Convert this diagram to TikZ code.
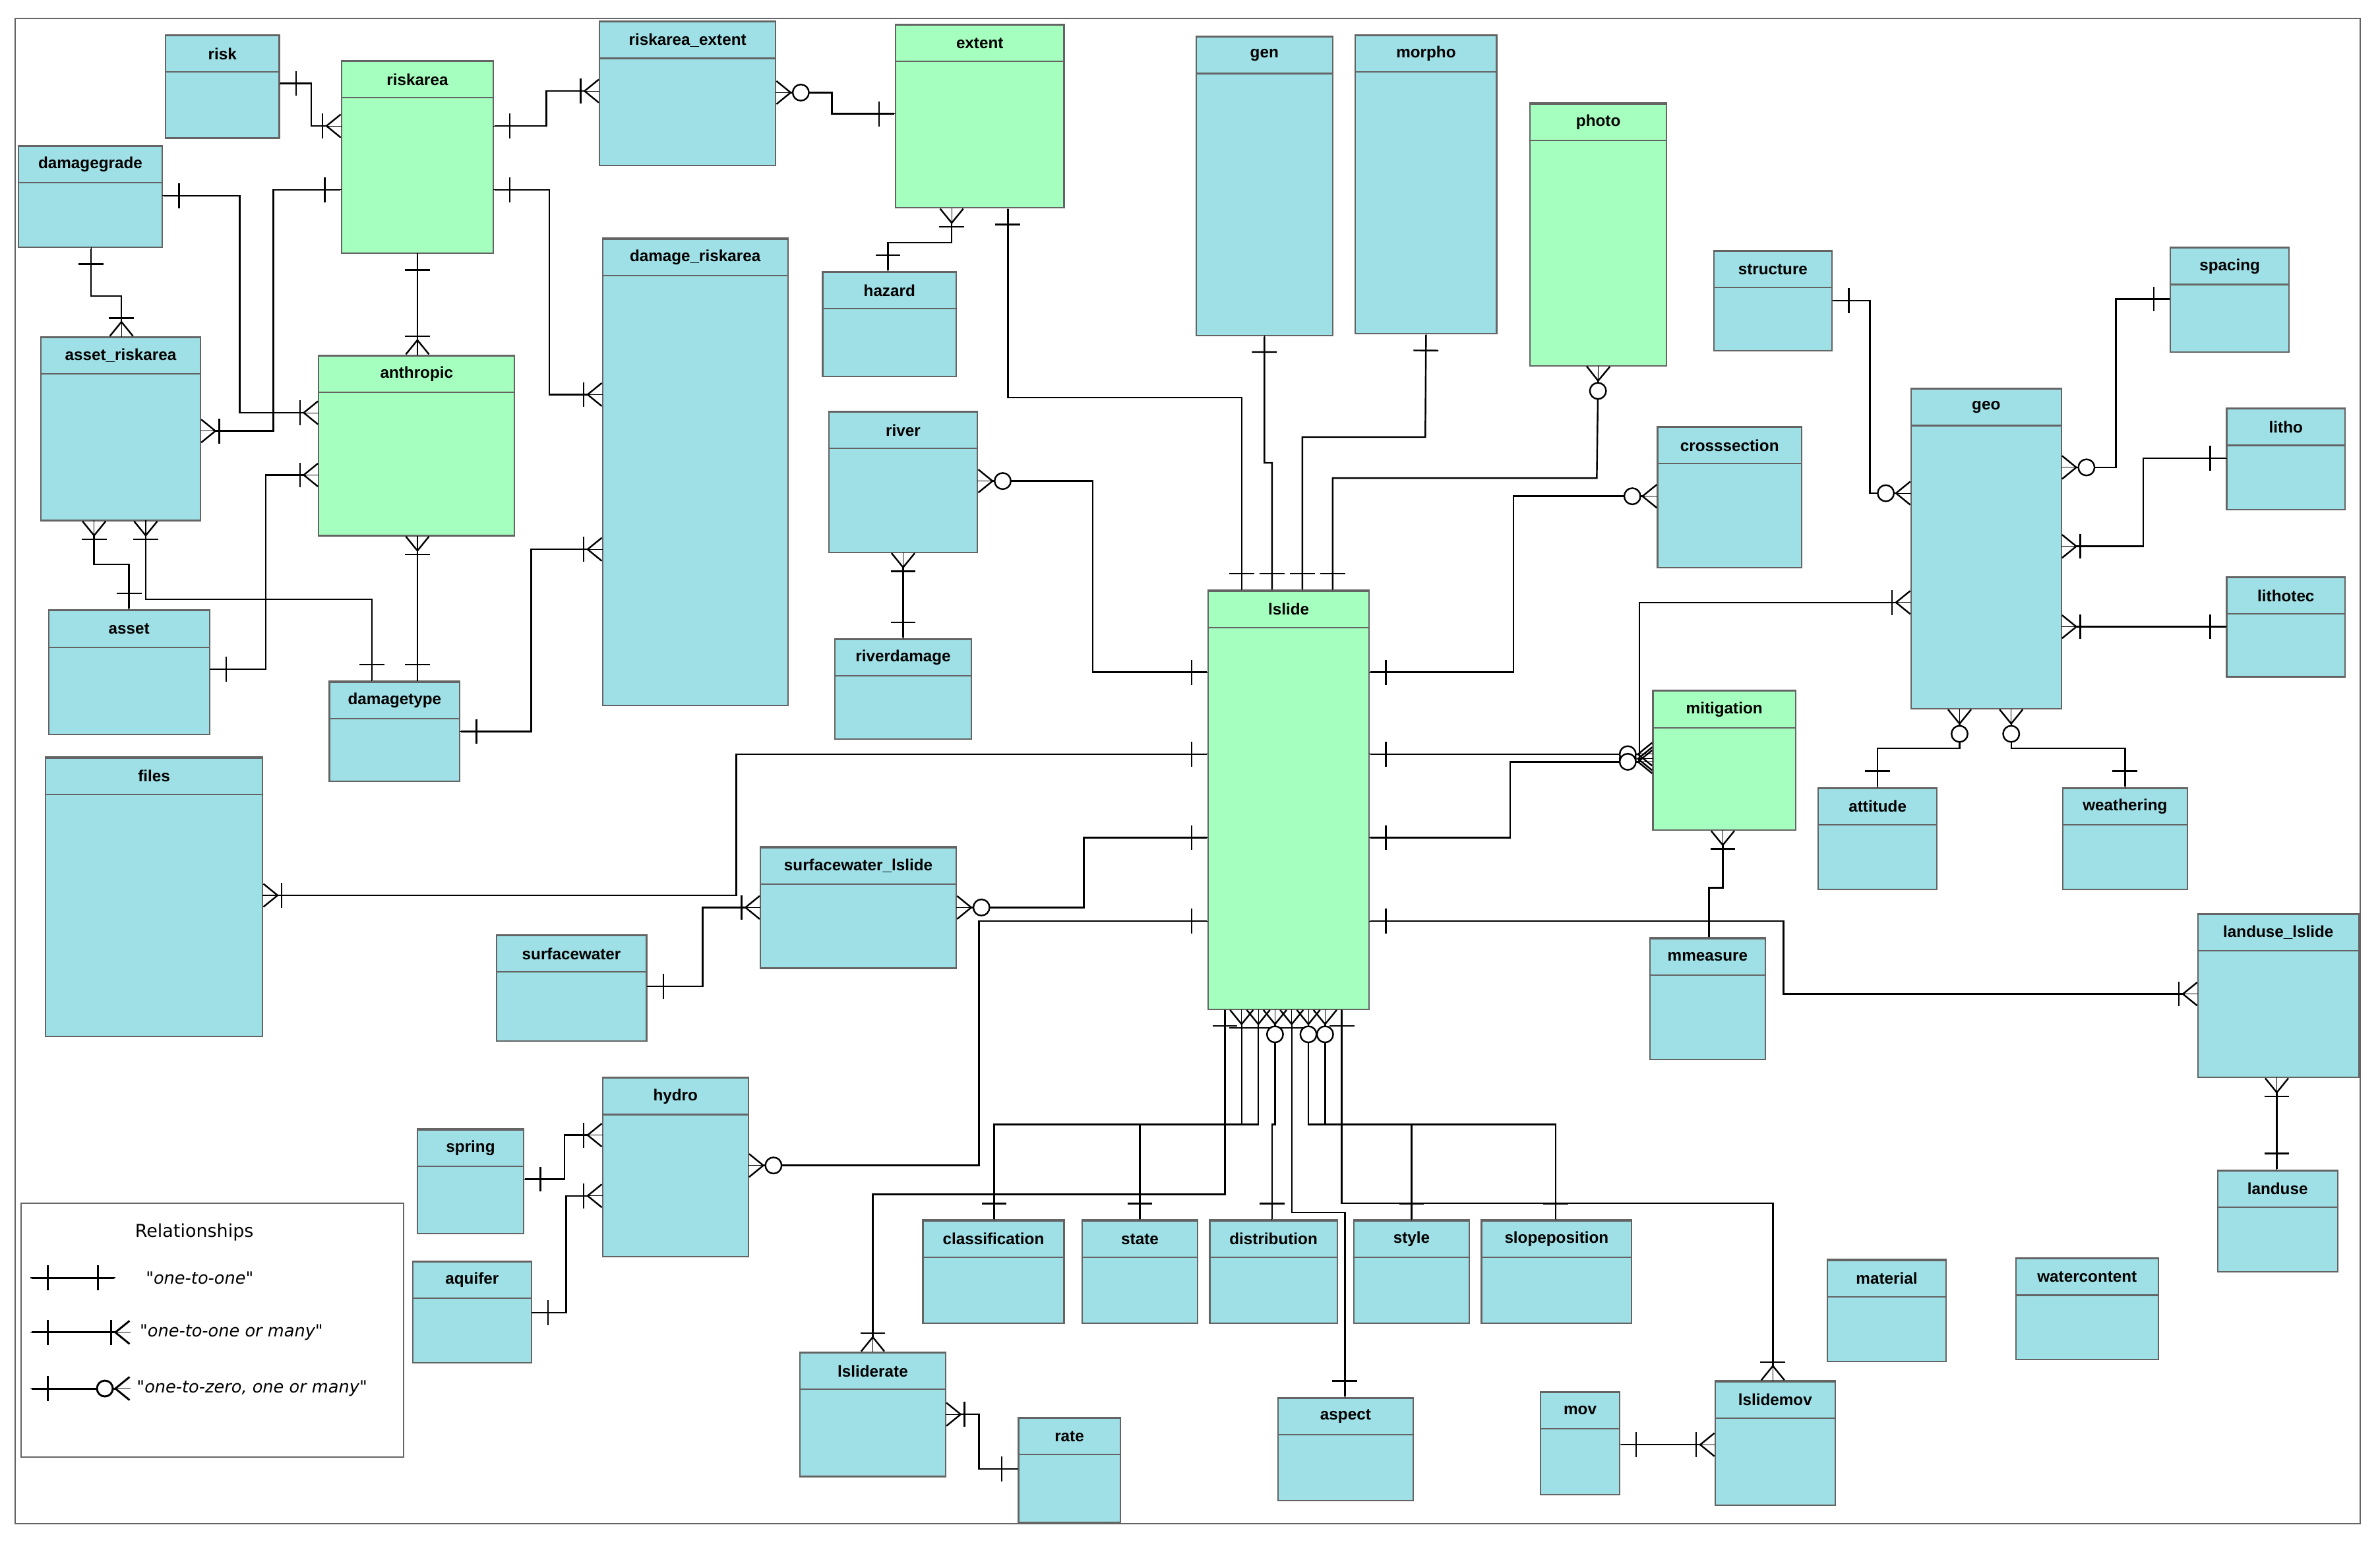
\documentclass[tikz,border=0pt]{standalone}
\usepackage{fontspec}
\setmainfont{Liberation Sans}
\newfontfamily\legfont{DejaVu Sans}
\usetikzlibrary{arrows.meta}
\definecolor{blu}{RGB}{158,224,230}
\definecolor{grn}{RGB}{165,255,190}
\definecolor{edge}{RGB}{100,100,100}
\tikzset{
    one/.tip={Bar[width=14pt,sep=8pt]Bar[width=0pt]},
    many/.tip={Bar[width=14pt,sep=1pt]Straight Barb[reversed,length=8pt,width=13pt]},
    zmany/.tip={Circle[fill=white,length=10pt,width=10pt,sep=0pt]Straight Barb[reversed,length=8pt,width=13pt]}
}
\newcommand{\tbl}[7]{%
    \pgfmathsetmacro\tw{(#4-#2)*0.3}\pgfmathsetmacro\th{(#5-#3)*0.3}%
    \node[tbl, fill=#6, minimum width=\tw mm, minimum height=\th mm] (#1) at (#2,#3) {};
    \node[hdr, fill=#6, minimum width=\tw mm] (#1-h) at (#1.north) {#7};
}
\begin{document}
\begin{tikzpicture}[x=0.3mm, y=-0.3mm]
    \tikzstyle{tbl}=[draw=edge, thick, anchor=north west, inner sep=0, outer sep=0]
    \tikzstyle{hdr}=[draw=edge, thick, anchor=north, minimum height=7.2mm, inner sep=0,
        font=\fontsize{9}{10}\selectfont\bfseries]
    \tikzstyle{rel}=[line width=0.9pt, preaction={draw, arrows=-}]

    \useasboundingbox (0,0) rectangle (1568,1024);
    \draw[edge, thick] (10,12) rectangle (1555,1004);

    % tables
    \tbl{risk}{109}{23}{184}{91}{blu}{risk}
    \tbl{riskarea}{225}{40}{325}{167}{grn}{riskarea}
    \tbl{riskareaextent}{395}{14}{511}{109}{blu}{riskarea\_extent}
    \tbl{extent}{590}{16}{701}{137}{grn}{extent}
    \tbl{gen}{788}{24}{878}{221}{blu}{gen}
    \tbl{morpho}{893}{23}{986}{220}{blu}{morpho}
    \tbl{photo}{1008}{68}{1098}{241}{grn}{photo}
    \tbl{damagegrade}{12}{96}{107}{163}{blu}{damagegrade}
    \tbl{damageriskarea}{397}{157}{519}{465}{blu}{damage\_riskarea}
    \tbl{hazard}{542}{179}{630}{248}{blu}{hazard}
    \tbl{structure}{1129}{165}{1207}{231}{blu}{structure}
    \tbl{spacing}{1430}{163}{1508}{232}{blu}{spacing}
    \tbl{assetriskarea}{27}{222}{132}{343}{blu}{asset\_riskarea}
    \tbl{anthropic}{210}{234}{339}{353}{grn}{anthropic}
    \tbl{geo}{1259}{256}{1358}{467}{blu}{geo}
    \tbl{litho}{1467}{269}{1545}{336}{blu}{litho}
    \tbl{river}{546}{271}{644}{364}{blu}{river}
    \tbl{crosssection}{1092}{281}{1187}{374}{blu}{crosssection}
    \tbl{lslide}{796}{389}{902}{665}{grn}{lslide}
    \tbl{lithotec}{1467}{380}{1545}{446}{blu}{lithotec}
    \tbl{asset}{32}{402}{138}{484}{blu}{asset}
    \tbl{riverdamage}{550}{421}{640}{487}{blu}{riverdamage}
    \tbl{damagetype}{217}{449}{303}{515}{blu}{damagetype}
    \tbl{mitigation}{1089}{455}{1183}{547}{grn}{mitigation}
    \tbl{files}{30}{499}{173}{683}{blu}{files}
    \tbl{attitude}{1198}{519}{1276}{586}{blu}{attitude}
    \tbl{weathering}{1359}{519}{1441}{586}{blu}{weathering}
    \tbl{swlslide}{501}{558}{630}{638}{blu}{surfacewater\_lslide}
    \tbl{lulslide}{1448}{602}{1554}{710}{blu}{landuse\_lslide}
    \tbl{surfacewater}{327}{616}{426}{686}{blu}{surfacewater}
    \tbl{mmeasure}{1087}{618}{1163}{698}{blu}{mmeasure}
    \tbl{hydro}{397}{710}{493}{828}{blu}{hydro}
    \tbl{spring}{275}{744}{345}{813}{blu}{spring}
    \tbl{landuse}{1461}{771}{1540}{838}{blu}{landuse}
    \tbl{classification}{608}{804}{701}{872}{blu}{classification}
    \tbl{state}{713}{804}{789}{872}{blu}{state}
    \tbl{distribution}{797}{804}{881}{872}{blu}{distribution}
    \tbl{style}{892}{804}{968}{872}{blu}{style}
    \tbl{slopeposition}{976}{804}{1075}{872}{blu}{slopeposition}
    \tbl{aquifer}{272}{831}{350}{898}{blu}{aquifer}
    \tbl{material}{1204}{830}{1282}{897}{blu}{material}
    \tbl{watercontent}{1328}{829}{1422}{896}{blu}{watercontent}
    \tbl{lsliderate}{527}{891}{623}{973}{blu}{lsliderate}
    \tbl{aspect}{842}{921}{931}{989}{blu}{aspect}
    \tbl{rate}{671}{934}{738}{1003}{blu}{rate}
    \tbl{mov}{1015}{917}{1067}{985}{blu}{mov}
    \tbl{lslidemov}{1130}{910}{1209}{992}{blu}{lslidemov}

    % relationships
    \draw[rel, one-many] (risk.east |- 0,55) -- (205,55) -- (205,83) -- (riskarea.west |- 0,83);
    \draw[rel, one-many] (riskarea.east |- 0,83) -- (360,83) -- (360,60) -- (riskareaextent.west |- 0,60);
    \draw[rel, zmany-one] (riskareaextent.east |- 0,61) -- (548,61) -- (548,75) -- (extent.west |- 0,75);
    \draw[rel, one-many] (damagegrade.east |- 0,129) -- (158,129) -- (158,272) -- (anthropic.west |- 0,272);
    \draw[rel, one-many] (riskarea.west |- 0,125) -- (180,125) -- (180,284) -- (assetriskarea.east |- 0,284);
    \draw[rel, one-many] (damagegrade.south -| 60,0) -- (60,195) -- (80,195) -- (assetriskarea.north -| 80,0);
    \draw[rel, one-many] (riskarea.south) -- (anthropic.north -| riskarea.south);
    \draw[rel, one-many] (riskarea.east |- 0,125) -- (362,125) -- (362,260) -- (damageriskarea.west |- 0,260);
    \draw[rel, many-one] (extent.south -| 627,0) -- (627,160) -- (585,160) -- (hazard.north -| 585,0);
    \draw[rel, one-one] (extent.south -| 664,0) -- (664,262) -- (818,262) -- (lslide.north -| 818,0);
    \draw[rel, one-one] (gen.south) -- (833,305) -- (838,305) -- (lslide.north -| 838,0);
    \draw[rel, one-one] (morpho.south) -- (939,288) -- (858,288) -- (lslide.north -| 858,0);
    \draw[rel, zmany-one] (photo.south) -- (1052,315) -- (878,315) -- (lslide.north -| 878,0);
    \draw[rel, many-one] (assetriskarea.south -| 62,0) -- (62,372) -- (85,372) -- (asset.north -| 85,0);
    \draw[rel, many-one] (assetriskarea.south -| 96,0) -- (96,395) -- (245,395) -- (damagetype.north -| 245,0);
    \draw[rel, many-one] (anthropic.west |- 0,313) -- (175,313) -- (175,441) -- (asset.east |- 0,441);
    \draw[rel, many-one] (anthropic.south -| 275,0) -- (damagetype.north -| 275,0);
    \draw[rel, one-many] (damagetype.east |- 0,482) -- (350,482) -- (350,362) -- (damageriskarea.west |- 0,362);
    \draw[rel, zmany-one] (river.east |- 0,317) -- (720,317) -- (720,443) -- (lslide.west |- 0,443);
    \draw[rel, many-one] (river.south -| 595,0) -- (riverdamage.north -| 595,0);
    \draw[rel, one-zmany] (structure.east |- 0,198) -- (1232,198) -- (1232,325) -- (geo.west |- 0,325);
    \draw[rel, one-zmany] (spacing.west |- 0,197) -- (1394,197) -- (1394,308) -- (geo.east |- 0,308);
    \draw[rel, one-many] (litho.west |- 0,302) -- (1412,302) -- (1412,360) -- (geo.east |- 0,360);
    \draw[rel, one-many] (lithotec.west |- 0,413) -- (geo.east |- 0,413);
    \draw[rel, zmany-one] (crosssection.west |- 0,327) -- (997,327) -- (997,443) -- (lslide.east |- 0,443);
    \draw[rel, many-zmany] (geo.west |- 0,397) -- (1080,397) -- (1080,500) -- (mitigation.west |- 0,500);
    \draw[rel, one-zmany] (lslide.east |- 0,497) -- (mitigation.west |- 0,497);
    \draw[rel, one-zmany] (lslide.east |- 0,552) -- (995,552) -- (995,502) -- (mitigation.west |- 0,502);
    \draw[rel, many-one] (mitigation.south -| 1135,0) -- (1135,585) -- (1126,585) -- (mmeasure.north -| 1126,0);
    \draw[rel, one-many] (lslide.east |- 0,607) -- (1175,607) -- (1175,655) -- (lulslide.west |- 0,655);
    \draw[rel, many-one] (lulslide.south -| 1500,0) -- (landuse.north -| 1500,0);
    \draw[rel, zmany-one] (geo.south -| 1291,0) -- (1291,493) -- (1237,493) -- (attitude.north -| 1237,0);
    \draw[rel, zmany-one] (geo.south -| 1325,0) -- (1325,493) -- (1400,493) -- (weathering.north -| 1400,0);
    \draw[rel, one-many] (lslide.west |- 0,497) -- (485,497) -- (485,590) -- (files.east |- 0,590);
    \draw[rel, zmany-one] (swlslide.east |- 0,598) -- (714,598) -- (714,552) -- (lslide.west |- 0,552);
    \draw[rel, zmany-one] (hydro.east |- 0,768) -- (645,768) -- (645,607) -- (lslide.west |- 0,607);
    \draw[rel, one-many] (surfacewater.east |- 0,650) -- (463,650) -- (463,598) -- (swlslide.west |- 0,598);
    \draw[rel, one-many] (spring.east |- 0,777) -- (372,777) -- (372,748) -- (hydro.west |- 0,748);
    \draw[rel, one-many] (aquifer.east |- 0,865) -- (373,865) -- (373,788) -- (hydro.west |- 0,788);
    \draw[rel, many-one] (lsliderate.east |- 0,932) -- (645,932) -- (645,968) -- (rate.west |- 0,968);
    \draw[rel, one-many] (mov.east |- 0,952) -- (lslidemov.west |- 0,952);
    \draw[rel, one-many] (lslide.south -| 807,0) -- (807,787) -- (575,787) -- (lsliderate.north -| 575,0);
    \draw[rel, many-one] (lslide.south -| 818,0) -- (818,741) -- (655,741) -- (classification.north -| 655,0);
    \draw[rel, many-one] (lslide.south -| 829,0) -- (829,741) -- (751,741) -- (state.north -| 751,0);
    \draw[rel, zmany-one] (lslide.south -| 840,0) -- (840,741) -- (838,741) -- (distribution.north -| 838,0);
    \draw[rel, many-one] (lslide.south -| 851,0) -- (851,799) -- (886,799) -- (aspect.north -| 886,0);
    \draw[rel, zmany-one] (lslide.south -| 862,0) -- (862,741) -- (930,741) -- (style.north -| 930,0);
    \draw[rel, zmany-one] (lslide.south -| 873,0) -- (873,741) -- (1025,741) -- (slopeposition.north -| 1025,0);
    \draw[rel, one-many] (lslide.south -| 884,0) -- (884,793) -- (1168,793) -- (lslidemov.north -| 1168,0);

    % legend
    \draw[edge, thick] (14,793) rectangle (266,960);
    \node[font=\legfont\fontsize{10}{12}\selectfont] (legtitle) at (128,812) {Relationships};
    \coordinate (la1) at (20,842); \coordinate (lb1) at (76,842);
    \coordinate (la2) at (20,878); \coordinate (lb2) at (86,878);
    \coordinate (la3) at (20,915); \coordinate (lb3) at (86,915);
    \draw[rel, line width=1.1pt, one-one] (la1) -- (lb1);
    \draw[rel, line width=1.1pt, one-many] (la2) -- (lb2);
    \draw[rel, line width=1.1pt, one-zmany] (la3) -- (lb3);
    \begin{scope}[every node/.style={anchor=west, font=\legfont\itshape\fontsize{9.5}{11}\selectfont}]
        \node (leg1) at (92,842) {"one-to-one"};
        \node (leg2) at (88,878) {"one-to-one or many"};
        \node (leg3) at (86,915) {"one-to-zero, one or many"};
    \end{scope}
\end{tikzpicture}
\end{document}
